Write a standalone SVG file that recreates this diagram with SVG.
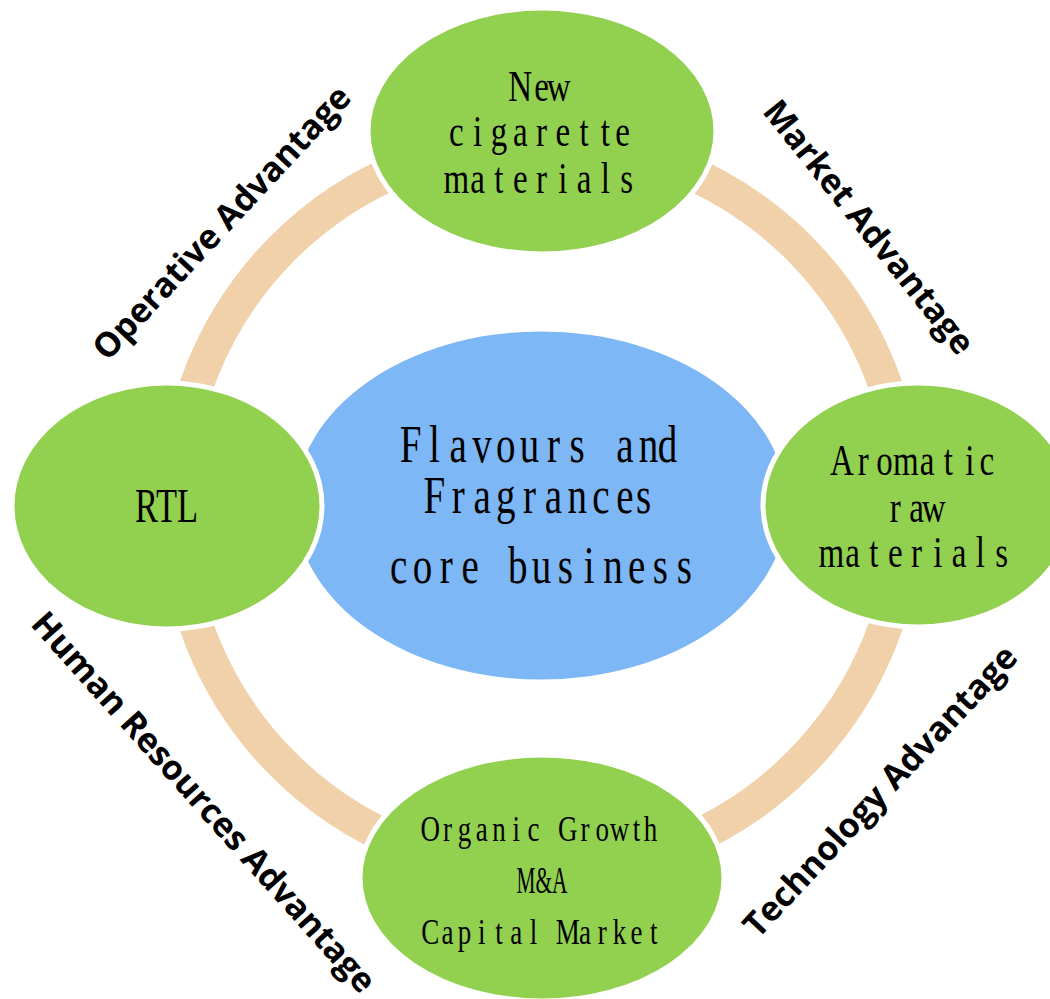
<svg xmlns="http://www.w3.org/2000/svg" width="1050" height="999" viewBox="0 0 1050 999">
  <style>
    .ring { fill: none; stroke: #F0D1A9; stroke-width: 34; }
    .node { fill: #92D050; stroke: #FFFFFF; stroke-width: 5; }
    .core { fill: #7DB7F5; }
    .lbl { font-family: "Liberation Serif", "Times New Roman", serif; fill: #000; text-anchor: middle; }
    .adv { font-family: "Open Sans", "Liberation Sans", sans-serif; font-weight: 700; font-size: 34px; fill: #000; text-anchor: middle; }
  </style>
  <rect width="1050" height="999" fill="#FFFFFF"/>

  <!-- ring linking the four nodes -->
  <g id="connectors">
    <circle class="ring" cx="541" cy="506" r="365"/>
  </g>

  <!-- central node; labels use fixed-pitch cells, narrowed by scaleX -->
  <g id="core">
    <ellipse class="core" cx="541" cy="505.5" rx="246" ry="174"/>
    <text class="lbl" font-size="52" transform="translate(541.5 0) scale(0.75 1)">
      <tspan y="462" x="-174.5 -142.8 -111.1 -79.3 -47.6 -15.9 15.9 47.6 79.3 111.1 142.8 174.5">Flavours and</tspan>
      <tspan y="513" x="-142.8 -111.1 -79.3 -47.6 -15.9 15.9 47.6 79.3 111.1 142.8">Fragrances</tspan>
      <tspan y="583" x="-190.4 -158.6 -126.9 -95.2 -63.5 -31.7 0 31.7 63.5 95.2 126.9 158.6 190.4">core business</tspan>
    </text>
  </g>

  <g id="node-top">
    <ellipse class="node" cx="542" cy="131" rx="174" ry="123"/>
    <text class="lbl" font-size="44" transform="translate(541.5 0) scale(0.75 1)">
      <tspan y="101" x="-28.4 0 28.4">New</tspan>
      <tspan y="146" x="-113.6 -85.2 -56.8 -28.4 0 28.4 56.8 85.2 113.6">cigarette</tspan>
      <tspan y="193" x="-113.6 -85.2 -56.8 -28.4 0 28.4 56.8 85.2 113.6">materials</tspan>
    </text>
  </g>

  <g id="node-left">
    <ellipse class="node" cx="167" cy="506" rx="155" ry="123"/>
    <text class="lbl" font-size="48" x="166.5" y="522" textLength="63" lengthAdjust="spacingAndGlyphs">RTL</text>
  </g>

  <g id="node-right">
    <ellipse class="node" cx="918" cy="505" rx="155" ry="122"/>
    <text class="lbl" font-size="44" transform="translate(916.5 0) scale(0.75 1)">
      <tspan y="475" x="-99.4 -71 -42.6 -14.2 14.2 42.6 71 99.4">Aromatic</tspan>
      <tspan y="522" x="-28.4 0 28.4">raw</tspan>
      <tspan y="567" x="-113.6 -85.2 -56.8 -28.4 0 28.4 56.8 85.2 113.6">materials</tspan>
    </text>
  </g>

  <g id="node-bottom">
    <ellipse class="node" cx="542" cy="878" rx="182" ry="123"/>
    <text class="lbl" font-size="36" transform="translate(542 0) scale(0.75 1)">
      <tspan y="841" x="-149.1 -126.1 -103.2 -80.3 -57.3 -34.4 -11.5 11.5 34.4 57.3 80.3 103.2 126.1 149.1">Organic Growth</tspan>
      <tspan y="944" x="-149.1 -126.1 -103.2 -80.3 -57.3 -34.4 -11.5 11.5 34.4 57.3 80.3 103.2 126.1 149.1">Capital Market</tspan>
    </text>
    <text class="lbl" font-size="38" x="542" y="893" textLength="51" lengthAdjust="spacingAndGlyphs">M&amp;A</text>
  </g>

  <!-- advantage captions along the ring -->
  <g id="label-operative">
    <text class="adv" transform="translate(222 223) rotate(-47)" x="0" y="0" dy="0.33em">Operative Advantage</text>
  </g>
  <g id="label-market">
    <text class="adv" transform="translate(868.5 227.5) rotate(51.3)" x="0" y="0" dy="0.33em">Market Advantage</text>
  </g>
  <g id="label-human">
    <text class="adv" transform="translate(203.5 802.5) rotate(48.2)" x="0" y="0" dy="0.33em">Human Resources Advantage</text>
  </g>
  <g id="label-technology">
    <text class="adv" transform="translate(880.5 791.5) rotate(-47)" x="0" y="0" dy="0.33em">Technology Advantage</text>
  </g>
</svg>
